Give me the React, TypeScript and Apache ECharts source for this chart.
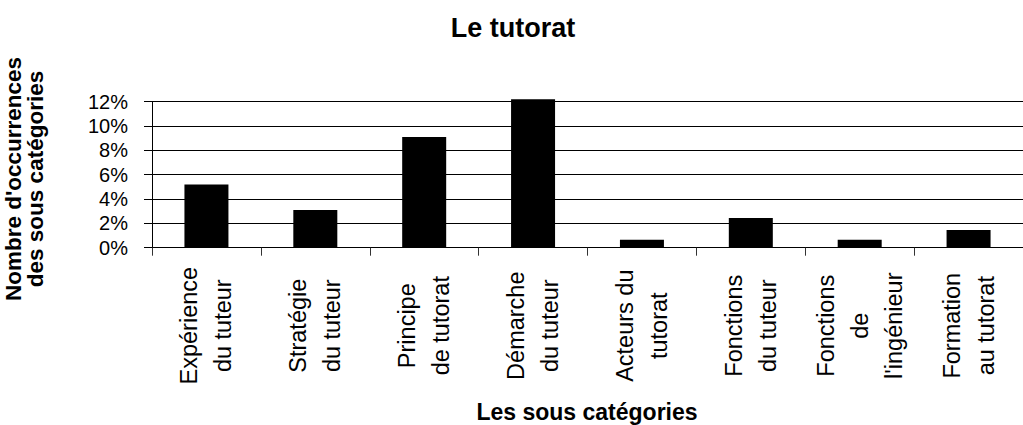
import React, { useEffect, useRef } from "react";
import * as echarts from "echarts";

const title = "Le tutorat";
const xAxisTitle = "Les sous catégories";
const yAxisTitle = "Nombre d'occurrences\ndes sous catégories";
const categories = [
  "Expérience\ndu tuteur",
  "Stratégie\ndu tuteur",
  "Principe\nde tutorat",
  "Démarche\ndu tuteur",
  "Acteurs du\ntutorat",
  "Fonctions\ndu tuteur",
  "Fonctions\nde\nl'ingénieur",
  "Formation\nau tutorat",
];
const values = [5.2, 3.1, 9.1, 12.2, 0.65, 2.45, 0.65, 1.45];

const FONT = "'Liberation Sans', Arial, Helvetica, sans-serif";

export default function App() {
  const ref = useRef<HTMLDivElement>(null);
  useEffect(() => {
    if (!ref.current) return;
    const chart = echarts.init(ref.current, null, { renderer: "svg" });
    chart.setOption({
      animation: false,
      backgroundColor: "#ffffff",
      textStyle: { fontFamily: FONT },
      grid: { left: 152, top: 101.7, width: 882, height: 146 },
      xAxis: {
        type: "category",
        data: categories,
        boundaryGap: true,
        axisLine: { show: true, lineStyle: { color: "#000", width: 1 } },
        axisTick: { show: true, length: 8, inside: false, lineStyle: { color: "#333" } },
        axisLabel: {
          interval: 0,
          rotate: 90,
          align: "center",
          verticalAlign: "middle",
          margin: 78,
          fontSize: 23.5,
          lineHeight: 34,
          color: "#000",
          fontFamily: FONT,
        },
        splitLine: { show: false },
      },
      yAxis: {
        type: "value",
        min: 0,
        max: 12,
        interval: 2,
        axisLine: { show: true, lineStyle: { color: "#000", width: 1 } },
        axisTick: { show: true, length: 8, lineStyle: { color: "#000" } },
        axisLabel: {
          formatter: "{value}%",
          fontSize: 20,
          margin: 24,
          color: "#000",
          fontFamily: FONT,
        },
        splitLine: { show: true, lineStyle: { color: "#000", width: 1 } },
      },
      series: [
        {
          type: "bar",
          data: values,
          barWidth: 44,
          clip: false,
          itemStyle: { color: "#000" },
        },
      ],
      graphic: [
        {
          type: "text",
          x: 513,
          y: 28,
          style: {
            text: title,
            fontSize: 27,
            fontWeight: "bold",
            fontFamily: FONT,
            fill: "#000",
            align: "center",
            verticalAlign: "middle",
          },
        },
        {
          type: "text",
          x: 587,
          y: 412,
          style: {
            text: xAxisTitle,
            fontSize: 23,
            fontWeight: "bold",
            fontFamily: FONT,
            fill: "#000",
            align: "center",
            verticalAlign: "middle",
          },
        },
        {
          type: "text",
          x: 24,
          y: 179,
          rotation: Math.PI / 2,
          style: {
            text: yAxisTitle,
            fontSize: 22.5,
            lineHeight: 22,
            fontWeight: "bold",
            fontFamily: FONT,
            fill: "#000",
            align: "center",
            verticalAlign: "middle",
          },
        },
      ],
    });
    return () => chart.dispose();
  }, []);
  return (
    <div
      ref={ref}
      style={{ position: "fixed", left: 0, top: 0, width: 1023, height: 425 }}
    />
  );
}
